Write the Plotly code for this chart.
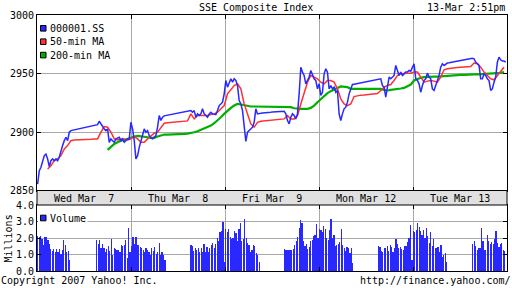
import plotly.graph_objects as go

# ---------------- data ----------------
# chart time is measured in trading-day units (0 = left edge, 5 = right edge)
PRICE_T0 = 0.0067
PRICE_DT = 0.01772
MA50_T0 = 0.1131
MA200_T0 = 0.7510
MA_DT = 0.03544

PRICE = [
    2855.5, 2867.0, 2869.8, 2874.1, 2879.8, 2881.2, 2877.0, 2870.4, 2875.5, 2877.0,
    2875.5, 2877.0, 2875.5, 2878.4, 2884.1, 2888.4, 2892.6, 2895.5, 2892.6, 2899.8,
    2901.2, 2901.5, 2902.1, 2902.4, 2902.6, 2902.9, 2903.2, 2903.5, 2903.8, 2904.1,
    2904.3, 2904.6, 2904.9, 2905.2, 2905.5, 2905.8, 2906.3, 2909.2, 2906.9, 2904.1,
    2902.6, 2901.2, 2902.6, 2891.2, 2894.1, 2892.6, 2891.2, 2894.1, 2894.9, 2895.5,
    2892.6, 2894.1, 2891.2, 2892.6, 2894.1, 2894.1, 2908.3, 2902.6, 2892.6, 2877.0,
    2879.8, 2886.9, 2892.6, 2896.9, 2902.6, 2899.8, 2901.2, 2896.9, 2894.9, 2894.1,
    2895.5, 2896.9, 2904.1, 2914.1, 2909.8, 2912.6, 2913.8, 2914.1, 2914.3, 2914.6,
    2914.9, 2915.2, 2915.5, 2915.8, 2916.0, 2916.3, 2916.6, 2916.9, 2917.2, 2917.5,
    2917.8, 2918.0,
    2918.3, 2916.9, 2918.3, 2912.6, 2915.5, 2914.1, 2915.5, 2919.8, 2915.5, 2914.1,
    2912.6, 2915.5, 2916.9, 2915.5, 2915.5, 2914.9, 2918.3, 2922.6, 2924.0, 2925.5,
    2932.6, 2944.0, 2938.3, 2942.6, 2945.5, 2942.6, 2945.5, 2944.0, 2939.7, 2926.9,
    2924.0, 2918.3, 2904.1, 2892.0, 2899.8, 2901.2, 2902.6, 2904.1, 2908.3, 2919.8,
    2915.5, 2915.5, 2916.0, 2916.3, 2916.3, 2916.6, 2916.6, 2916.9, 2916.9, 2917.2,
    2917.2, 2917.5, 2917.5, 2917.5, 2917.8, 2917.8, 2917.8, 2915.5, 2909.8, 2906.9,
    2912.6, 2915.5, 2914.1, 2911.2, 2915.5, 2932.6, 2955.4, 2951.2, 2948.3, 2941.2,
    2944.0, 2946.9, 2952.6, 2948.3, 2945.5, 2944.0, 2936.9, 2941.2, 2931.2, 2934.0,
    2949.7, 2954.0, 2951.2, 2936.9, 2939.7, 2936.9, 2938.3, 2934.0, 2935.5, 2915.5,
    2909.8, 2915.5, 2919.8, 2921.2, 2925.5, 2932.6,
    2936.9, 2940.6, 2940.9, 2941.2, 2941.5, 2941.7, 2942.0, 2942.3, 2942.6, 2942.9,
    2943.2, 2943.5, 2943.7, 2944.0, 2944.3, 2944.6, 2944.9, 2945.2, 2945.5, 2939.7,
    2938.3, 2929.7, 2939.7, 2946.9, 2945.5, 2946.9, 2948.3, 2956.9, 2952.6, 2948.3,
    2951.2, 2948.3, 2949.7, 2951.2, 2951.2, 2952.6, 2952.0, 2955.4, 2958.3, 2945.5,
    2944.0, 2941.2, 2934.0, 2939.7, 2944.0, 2945.5, 2950.3, 2946.9, 2945.5, 2936.9,
    2935.5, 2939.7, 2944.0, 2948.3, 2955.4, 2958.3, 2956.9, 2958.3, 2958.9, 2959.1,
    2959.4, 2959.7, 2960.0, 2960.3, 2960.6, 2960.9, 2961.1, 2961.4, 2961.7, 2962.0,
    2962.3, 2962.6, 2962.9, 2963.1, 2962.6, 2959.7, 2958.3, 2956.9, 2945.5, 2945.5,
    2949.7, 2948.3, 2945.5, 2944.0, 2935.5, 2936.9, 2942.6, 2946.9, 2959.7, 2964.0,
    2961.7, 2960.6, 2960.6, 2959.7,
]

MA50 = [
    2868.4, 2871.2, 2875.5, 2877.0, 2879.8, 2885.5, 2888.4, 2892.6, 2893.2, 2893.2,
    2893.5, 2893.5, 2893.8, 2893.8, 2894.1, 2894.1, 2899.8, 2904.6, 2904.1, 2899.8,
    2894.1, 2893.2, 2894.1, 2894.1, 2893.2, 2894.1, 2896.1, 2894.1, 2891.2, 2891.2,
    2894.1, 2896.9, 2898.9, 2899.8, 2904.1, 2907.5, 2907.8, 2908.1, 2908.3, 2908.6,
    2908.9, 2909.2, 2909.5,
    2915.5, 2911.2, 2914.1, 2914.1, 2914.1, 2914.1, 2914.9, 2915.5, 2916.9, 2919.8,
    2922.6, 2932.6, 2936.0, 2939.7, 2941.2, 2936.9, 2924.0, 2915.5, 2906.9, 2904.1,
    2908.3, 2909.2, 2909.5, 2909.8, 2910.1, 2910.3, 2910.6, 2910.9, 2911.2, 2914.1,
    2911.2, 2911.2, 2914.1, 2924.0, 2932.6, 2942.6, 2948.3, 2946.9, 2945.5, 2942.6,
    2941.2, 2944.0, 2944.0, 2942.6, 2936.9, 2928.3, 2924.0, 2922.6,
    2924.0, 2930.3, 2931.2, 2931.5, 2931.7, 2932.0, 2932.3, 2932.6, 2932.9, 2935.5,
    2938.3, 2939.7, 2940.6, 2944.0, 2948.3, 2949.7, 2950.3, 2950.3, 2950.3, 2951.2,
    2951.2, 2946.9, 2942.6, 2943.5, 2944.0, 2943.5, 2942.6, 2946.9, 2953.2, 2954.0,
    2954.6, 2954.9, 2955.2, 2955.4, 2955.7, 2956.0, 2956.0, 2958.9, 2958.3, 2955.4,
    2951.2, 2948.3, 2945.5, 2944.6, 2948.3, 2951.2, 2955.4,
]

MA200 = [
    2884.7, 2887.5, 2889.8, 2891.2, 2892.6, 2893.2, 2894.1, 2895.5, 2896.1, 2896.6,
    2896.4, 2896.1, 2895.5, 2894.9, 2894.9, 2896.1, 2896.9, 2897.8, 2897.8, 2897.8,
    2898.1, 2898.1, 2898.4, 2898.4, 2898.6,
    2898.9, 2899.8, 2900.6, 2901.8, 2902.6, 2904.1, 2905.5, 2907.5, 2909.8, 2912.6,
    2915.5, 2918.3, 2920.6, 2922.6, 2924.0, 2923.5, 2922.9, 2922.3, 2921.8, 2921.8,
    2921.8, 2921.8, 2921.8, 2921.8, 2921.8, 2921.8, 2921.8, 2921.8, 2921.8, 2921.8,
    2921.2, 2920.3, 2919.8, 2919.8, 2919.8, 2919.8, 2920.6, 2922.6, 2925.5, 2928.3,
    2931.2, 2933.2, 2934.9, 2936.0, 2937.7, 2938.9, 2938.9, 2938.3,
    2936.9, 2936.9, 2936.9, 2936.9, 2936.9, 2936.9, 2936.9, 2936.9, 2936.9, 2936.9,
    2936.0, 2935.5, 2936.0, 2936.6, 2936.9, 2937.2, 2937.7, 2938.9, 2940.6, 2944.0,
    2945.5, 2946.3, 2946.9, 2947.2, 2947.4, 2947.4, 2947.4, 2947.7, 2948.0, 2948.3,
    2948.6, 2948.6, 2948.9, 2948.9, 2948.9, 2949.2, 2949.2, 2949.2, 2949.2, 2949.4,
    2949.7, 2949.7, 2949.7, 2950.0, 2950.3, 2950.6, 2951.2,
]

# volume in millions, 5-minute bars, per trading session
VOL_DT = 0.01546
VOL_SESSION_START = [0.0, 0.627, 1.630, 2.626, 3.625, 4.628]
VOL_1 = [2.15, 2.05, 2.10, 1.95, 1.60, 2.05, 2.05, 1.85, 1.65, 1.35, 1.20, 1.35,
         1.15, 1.35, 1.15, 1.35, 1.05, 1.30, 1.90, 1.60, 1.15, 1.20, 0.65]
VOL_2 = [1.88, 1.62, 1.88, 1.37, 1.62, 1.40, 1.17, 1.35, 1.54, 1.20,
         1.94, 0.97, 1.37, 1.33, 1.30, 1.28, 1.17, 1.58, 1.52, 1.60,
         1.90, 0.80, 2.60, 1.17, 1.52, 2.06, 1.62, 2.08, 1.58, 1.58,
         1.48, 1.41, 1.25, 1.17, 1.41, 1.27, 1.17, 0.97, 1.37, 1.21,
         1.47, 1.03, 1.17, 1.72, 1.00, 1.17, 0.97, 0.67]
VOL_3 = [1.58, 1.54, 1.20, 1.38, 1.25, 1.38, 1.17, 1.38, 1.15, 1.66,
         1.17, 1.45, 1.13, 1.40, 1.58, 1.70, 1.41, 1.62, 2.02, 1.80,
         2.34, 2.42, 3.00, 0.52, 2.55, 2.34, 2.55, 2.05, 1.94, 2.00,
         2.42, 2.30, 1.80, 2.55, 2.90, 1.82, 1.94, 3.15, 2.00, 1.72,
         1.58, 1.17, 1.25, 1.58, 1.52, 1.07, 0.97, 0.52]
VOL_4 = [1.33, 1.29, 1.29, 1.29, 1.29, 1.29, 1.31, 1.58, 1.82, 2.08,
         2.63, 3.10, 2.90, 1.82, 1.54, 1.66, 1.33, 1.47, 1.82, 1.88,
         2.14, 2.18, 2.85, 2.02, 2.54, 2.48, 2.38, 2.70, 2.54, 2.02,
         1.88, 2.48, 3.15, 2.00, 2.18, 1.54, 1.58, 1.62, 1.78, 2.54,
         1.58, 1.37, 1.21, 1.47, 1.41, 1.07, 1.37, 0.46]
VOL_5 = [1.52, 1.43, 1.20, 1.17, 1.41, 1.37, 1.52, 1.21, 1.58, 1.47,
         1.17, 1.41, 1.94, 1.62, 1.37, 1.43, 1.35, 1.27, 1.52, 1.52,
         1.78, 2.02, 2.77, 0.67, 2.42, 2.34, 2.46, 2.90, 2.65, 2.42,
         2.18, 2.48, 1.98, 2.63, 2.10, 1.68, 2.38, 1.54, 1.94, 1.37,
         1.37, 1.47, 1.13, 1.60, 0.87, 1.00, 1.07, 0.57]
VOL_6 = [1.62, 1.82, 1.52, 1.27, 1.37, 1.41, 2.63, 1.82, 1.27, 1.30,
         2.18, 1.82, 1.62, 1.78, 1.62, 1.94, 2.42, 1.72, 1.47, 1.66,
         1.70, 1.27, 1.21]

DAY_LABELS = ["Wed Mar  7", "Thu Mar  8", "Fri Mar  9", "Mon Mar 12", "Tue Mar 13"]
PRICE_TICKS = [2850, 2900, 2950, 3000]
VOL_TICKS = [0, 1, 2, 3, 4]
SERIES_NAMES = ["000001.SS", "50-min MA", "200-min MA"]

# ---------------- styling ----------------
BLUE = "#2828ff"
RED = "#ff3030"
GREEN = "#00b000"
GRID = "#a8a8a8"
FONT = dict(family="DejaVu Sans Mono", size=10, color="black")

W, H = 512, 288
ML, MR, MT, MB = 37, 5, 15, 17
PW = W - ML - MR
PH = H - MT - MB


def px(x):
    return (x - ML) / PW


def py(y):
    return (H - MB - y) / PH


def times(t0, dt, n):
    return [t0 + i * dt for i in range(n)]


fig = go.Figure()

# volume bars
vx, vy = [], []
for start, sess in zip(VOL_SESSION_START, [VOL_1, VOL_2, VOL_3, VOL_4, VOL_5, VOL_6]):
    vx += [start + (i + 0.5) * VOL_DT for i in range(len(sess))]
    vy += sess
fig.add_trace(go.Bar(x=vx, y=vy, width=[0.0128] * len(vx), marker=dict(color=BLUE, line=dict(width=0)),
                     xaxis="x2", yaxis="y2"))

fig.add_trace(go.Scatter(x=times(MA200_T0, MA_DT, len(MA200)), y=MA200, mode="lines",
                         line=dict(color=GREEN, width=2.2)))
fig.add_trace(go.Scatter(x=times(MA50_T0, MA_DT, len(MA50)), y=MA50, mode="lines",
                         line=dict(color=RED, width=1.5)))
fig.add_trace(go.Scatter(x=times(PRICE_T0, PRICE_DT, len(PRICE)), y=PRICE, mode="lines",
                         line=dict(color=BLUE, width=1.5)))

axis_common = dict(showline=True, linecolor="black", linewidth=1, mirror="allticks",
                   ticks="inside", ticklen=4, tickcolor="black", tickwidth=1,
                   showgrid=True, gridcolor=GRID, gridwidth=1, zeroline=False,
                   tickfont=FONT)

main_bottom = py(190.5)
vol_top = py(205)

fig.update_layout(
    width=W, height=H, autosize=False,
    margin=dict(l=ML, r=MR, t=MT, b=MB, pad=0),
    paper_bgcolor="white", plot_bgcolor="white",
    showlegend=False, bargap=0,
    xaxis=dict(domain=[0, 1], range=[0, 5], tickvals=[1, 2, 3, 4], showticklabels=False,
               anchor="y", **axis_common),
    yaxis=dict(domain=[main_bottom, 1], range=[2850, 3000], tickvals=PRICE_TICKS,
               anchor="x", **axis_common),
    xaxis2=dict(domain=[0, 1], range=[0, 5], tickvals=[1, 2, 3, 4], showticklabels=False,
                anchor="y2", matches="x", **axis_common),
    yaxis2=dict(domain=[0, vol_top], range=[0, 4], tickvals=VOL_TICKS,
                ticktext=["%.1f" % v for v in VOL_TICKS], anchor="x2", **axis_common),
)

shapes = []
annotations = []

# date strip
shapes.append(dict(type="rect", xref="paper", yref="paper", x0=0, x1=1, y0=vol_top, y1=main_bottom,
                   fillcolor="#e0e0e0", line=dict(color="black", width=1), layer="above"))
for i, lab in enumerate(DAY_LABELS):
    annotations.append(dict(text=lab.replace("  ", " \u00a0"), x=i + 0.5, xref="x", y=py(198), yref="paper",
                            xanchor="center", yanchor="middle", showarrow=False, font=FONT))

# main legend
for i, (name, col) in enumerate(zip(SERIES_NAMES, [BLUE, RED, GREEN])):
    yc = 28.3 + i * 13.4
    shapes.append(dict(type="rect", xref="paper", yref="paper", x0=px(40.5), x1=px(46),
                       y0=py(yc + 2.8), y1=py(yc - 2.8), fillcolor=col,
                       line=dict(color="black", width=1), layer="above"))
    annotations.append(dict(text=name, x=px(47.5), y=py(yc), xref="paper", yref="paper",
                            xanchor="left", yanchor="middle", showarrow=False, font=FONT))

# volume legend
shapes.append(dict(type="rect", xref="paper", yref="paper", x0=px(37.6), x1=px(87.5),
                   y0=py(225), y1=py(206), fillcolor="white", line=dict(width=0), layer="above"))
shapes.append(dict(type="rect", xref="paper", yref="paper", x0=px(40.5), x1=px(46),
                   y0=py(220.8), y1=py(215.2), fillcolor=BLUE,
                   line=dict(color="black", width=1), layer="above"))
annotations.append(dict(text="Volume", x=px(47.5), y=py(218), xref="paper", yref="paper",
                        xanchor="left", yanchor="middle", showarrow=False, font=FONT))

# titles / footers
annotations += [
    dict(text="SSE Composite Index", x=px(256), y=py(7.5), xanchor="center"),
    dict(text="13-Mar 2:51pm", x=px(507), y=py(7.5), xanchor="right"),
    dict(text="Copyright 2007 Yahoo! Inc.", x=px(-1), y=py(280.5), xanchor="left"),
    dict(text="http://finance.yahoo.com/", x=px(513), y=py(280.5), xanchor="right"),
    dict(text="Millions", x=px(7.5), y=py(239), xanchor="center", textangle=-90),
]
for a in annotations[-5:]:
    a.update(xref="paper", yref="paper", yanchor="middle", showarrow=False, font=FONT)

fig.update_layout(shapes=shapes, annotations=annotations)

fig.write_html("out.html", config={"displayModeBar": False, "staticPlot": True})
